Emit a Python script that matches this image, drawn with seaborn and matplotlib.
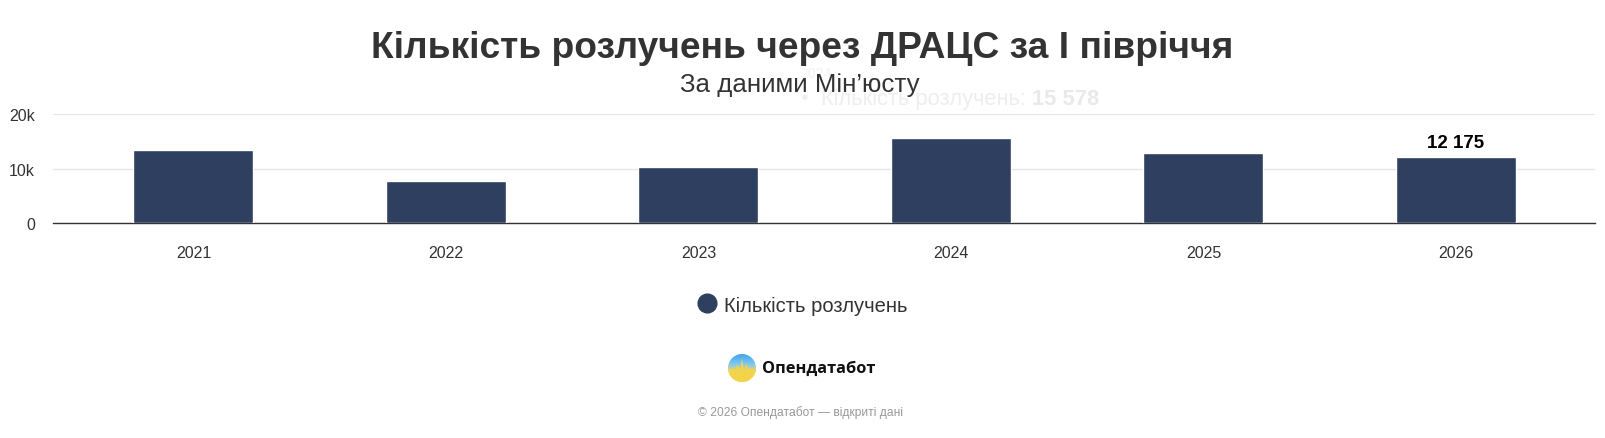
import numpy as np
import pandas as pd
import matplotlib
matplotlib.use('Agg')
import matplotlib.pyplot as plt
import seaborn as sns
from matplotlib.lines import Line2D
from matplotlib.patches import Circle, Polygon
from matplotlib.colors import LinearSegmentedColormap

# ---------------- data ----------------
years = ['2021', '2022', '2023', '2024', '2025', '2026']
divorces = [13350, 7800, 10350, 15578, 12850, 12175]
series_name = 'Кількість розлучень'
y_ticks = [0, 10000, 20000]
y_tick_labels = ['0', '10k', '20k']
title = 'Кількість розлучень через ДРАЦС за І півріччя'
subtitle = 'За даними Мін’юсту'
hover_year = '2024'
hover_value = 15578
labelled_year = '2026'
brand = 'Опендатабот'
footer = '© 2026 Опендатабот — відкриті дані'


def fmt(v):
    return f'{v:,}'.replace(',', ' ')


# ---------------- style ----------------
sns.set_theme(style='white')
plt.rcParams['font.family'] = ['Liberation Sans', 'DejaVu Sans']

BAR = '#2e3f5f'
TXT = '#333333'
W, H = 1605, 439
fig = plt.figure(figsize=(W / 100, H / 100), dpi=100)
fig.patch.set_facecolor('white')


def fx(px):
    return px / W


def fy(py):
    return 1 - py / H


def fit_width(t, target_px):
    r = fig.canvas.get_renderer()
    w = t.get_window_extent(r).width
    t.set_fontsize(t.get_fontsize() * target_px / w)


# ---------------- main axes ----------------
ax = fig.add_axes([fx(53), fy(224), fx(1595 - 53), (224 - 115) / H])
df = pd.DataFrame({'year': years, 'value': divorces})
sns.barplot(data=df, x='year', y='value', color=BAR, saturation=1,
            width=0.475, edgecolor='white', linewidth=1, ax=ax, zorder=3)

ax.set_xlim(-0.556, 5.551)
ax.set_ylim(0, 20060)
ax.set_yticks(y_ticks, y_tick_labels)
ax.yaxis.grid(True, color='#e6e6e6', linewidth=1)
ax.xaxis.grid(False)
ax.set_axisbelow(True)
for s in ['left', 'right', 'top']:
    ax.spines[s].set_visible(False)
ax.spines['bottom'].set_color(TXT)
ax.spines['bottom'].set_linewidth(1)
ax.set_xlabel('')
ax.set_ylabel('')
ax.tick_params(axis='y', length=0, pad=13, labelsize=11.5, labelcolor=TXT)
ax.tick_params(axis='x', length=0, pad=16, labelsize=11.5, labelcolor=TXT)

# data label on last bar
labels = [fmt(v) if y == labelled_year else '' for y, v in zip(years, divorces)]
ax.bar_label(ax.containers[0], labels=labels, padding=4, fontsize=13.5,
             fontweight='bold', color='black')

# ---------------- titles ----------------
t_title = fig.text(fx(802), fy(58), title, ha='center', va='baseline',
                   fontsize=25, fontweight='bold', color=TXT, zorder=5)
t_sub = fig.text(fx(800), fy(92), subtitle, ha='center', va='baseline',
                 fontsize=18, color=TXT, zorder=5)

# faded tooltip remnant (drawn behind the titles)
GHOST = '#eeeeee'
fig.text(fx(800), fy(78), hover_year, ha='left', va='baseline',
         fontsize=10, color='#f2f2f2', zorder=1)
fig.text(fx(805), fy(98), '●', ha='center', va='center',
         fontsize=9, color=GHOST, zorder=1)
t_g1 = fig.text(fx(821), fy(105), series_name + ': ', ha='left',
                va='baseline', fontsize=16, color=GHOST, zorder=1)

fig.canvas.draw()
fit_width(t_title, 862)
fit_width(t_sub, 240)
fit_width(t_g1, 212)
fig.canvas.draw()
t_g2 = fig.text(0, 0, fmt(hover_value), fontsize=t_g1.get_fontsize(),
                fontweight='bold', color='#e9e9e9', ha='left', va='baseline',
                zorder=1)
bb = t_g1.get_window_extent(fig.canvas.get_renderer())
t_g2.set_position((bb.x1 / W, fy(105)))

# ---------------- legend ----------------
handle = Line2D([], [], marker='o', linestyle='', color=BAR, markersize=13.5)
leg = fig.legend(handles=[handle], labels=[series_name], loc='center',
                 bbox_to_anchor=(fx(801), fy(306)), frameon=False,
                 fontsize=14.5, handletextpad=0.25, handlelength=1.2,
                 labelcolor=TXT)

# ---------------- logo ----------------
lax = fig.add_axes([fx(742 - 14), fy(369 + 14), 28 / W, 28 / H])
lax.set_xlim(-1, 1)
lax.set_ylim(-1, 1)
lax.axis('off')
grad = np.linspace(0, 1, 100).reshape(-1, 1)
cmap = LinearSegmentedColormap.from_list(
    'logo', ['#f3d34a', '#f1dc6a', '#7cc6f2', '#3fa4ee'])
im = lax.imshow(grad, extent=(-1, 1, -1, 1), origin='lower', cmap=cmap,
                aspect='auto')
im.set_clip_path(Circle((0, 0), 1, transform=lax.transData))
spike = Polygon([(-1, -0.1), (-0.45, -0.05), (-0.3, 0.25), (-0.15, -0.2),
                 (0.0, 0.7), (0.15, -0.25), (0.3, 0.3), (0.45, -0.05),
                 (1, -0.1), (1, -1), (-1, -1)], closed=True,
                facecolor='#f3d34a', edgecolor='none')
lax.add_patch(spike)
spike.set_clip_path(Circle((0, 0), 1, transform=lax.transData))

t_brand = fig.text(fx(762), fy(369), brand, ha='left', va='center',
                   fontsize=13, fontweight='bold', color='#111111',
                   family=['Open Sans', 'DejaVu Sans'])
t_foot = fig.text(fx(800), fy(413), footer, ha='center', va='center',
                  fontsize=9, color='#999999')
fig.canvas.draw()
fit_width(t_brand, 112)
fit_width(t_foot, 204)

fig.savefig('out.png', dpi=100, facecolor='white')
